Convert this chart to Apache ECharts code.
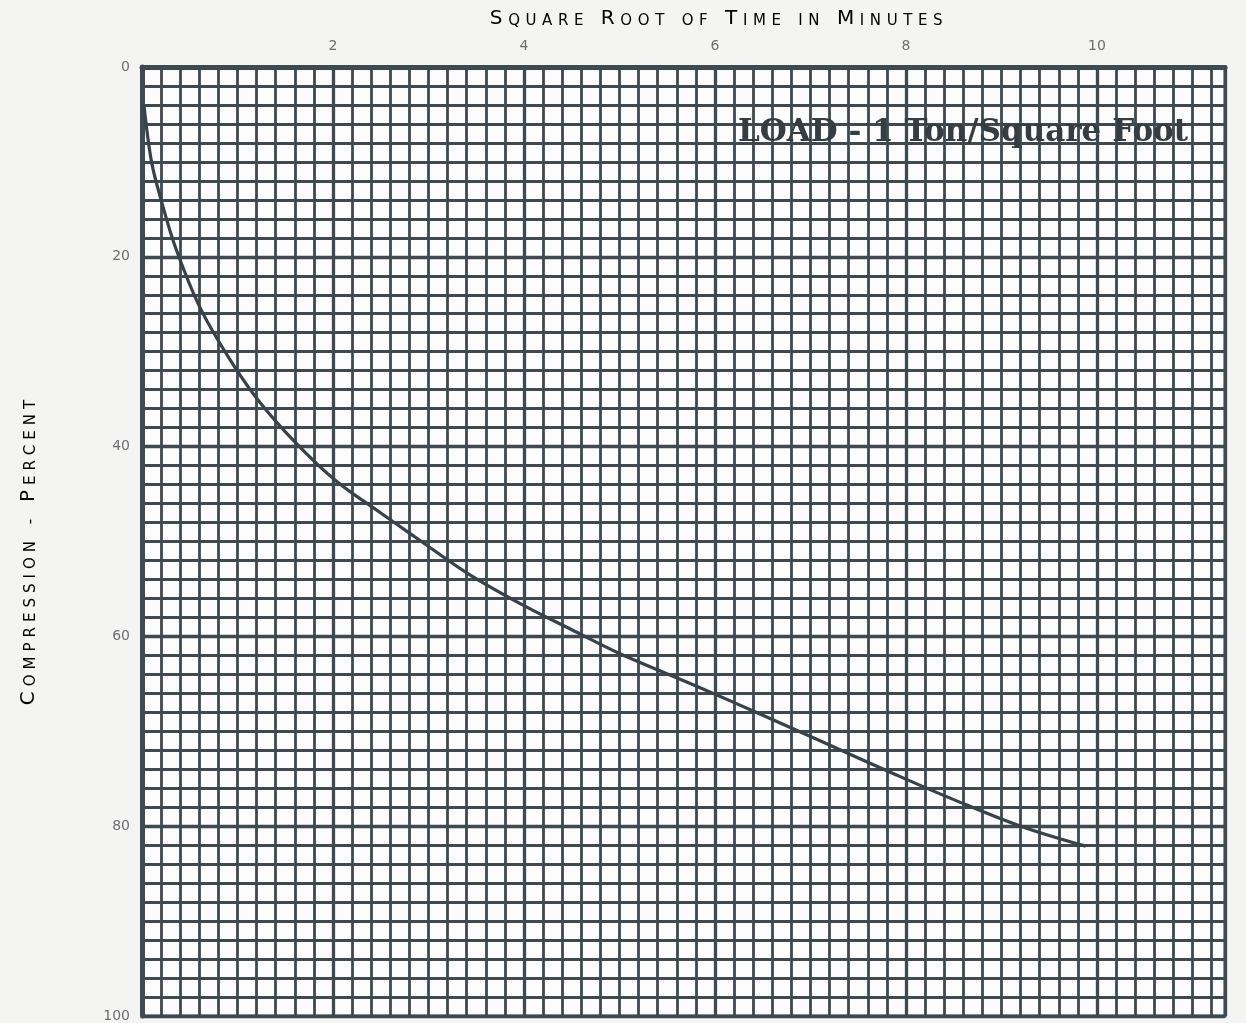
<!DOCTYPE html>
<html>
<head>
<meta charset="utf-8">
<script src="https://cdn.jsdelivr.net/npm/echarts@6/dist/echarts.min.js"></script>
<style>
html,body{margin:0;padding:0;background:#f4f4f3;}
#c{width:1246px;height:1023px;}
</style>
</head>
<body>
<div id="c"></div>
<script>
// ---- data ----
const sqrtTime    = [0.02, 0.1, 0.2, 0.35, 0.6, 0.9, 1.2, 1.6, 2.03, 2.5, 2.87, 3.4, 3.97, 4.5, 5.0, 5.82, 6.5, 7.1, 7.9, 8.5, 9.2, 9.88];
const compression = [4, 10, 14, 19, 25.2, 30.5, 34.9, 39.5, 43.6, 47, 49.6, 53.3, 56.6, 59.3, 61.8, 65.3, 68.3, 71, 74.6, 77.2, 80, 82.1];
const xTickLabels = [2, 4, 6, 8, 10];
const yTickLabels = [0, 20, 40, 60, 80, 100];
const xTitle = 'SQUARE ROOT OF TIME IN MINUTES';
const yTitle = 'COMPRESSION - PERCENT';
const loadNote = 'LOAD - 1 Ton/Square Foot';

const lineColor = '#3e4a50';
const titleColor = '#5d6367';

// small-caps style text with letter spacing, built from a plain string
function smallCaps(str) {
  let out = '';
  const words = str.split(' ');
  words.forEach((w, wi) => {
    for (let i = 0; i < w.length; i++) {
      const big = (i === 0 && w.length > 2);
      out += '{' + (big ? 'B' : 's') + '|' + w[i] + '}';
    }
    if (wi < words.length - 1) out += '{w| }';
  });
  return out;
}
function capsRich(sp) {
  return {
    B: {fontSize: 20, lineHeight: 22, verticalAlign: 'bottom', padding: [0, sp, 0, 0], fontFamily: 'DejaVu Sans', color: titleColor},
    s: {fontSize: 15, lineHeight: 18, verticalAlign: 'bottom', padding: [0, sp, 0, 0], fontFamily: 'DejaVu Sans', color: titleColor},
    w: {fontSize: 15, lineHeight: 18, verticalAlign: 'bottom', padding: [0, 7, 0, 0], fontFamily: 'DejaVu Sans', color: titleColor}
  };
}

const chart = echarts.init(document.getElementById('c'));
const isInt = v => Math.abs(v - Math.round(v)) < 1e-6;

chart.setOption({
  backgroundColor: '#f4f4f3',
  animation: false,
  grid: {left: 142, right: 21, top: 67, bottom: 1, show: true, backgroundColor: '#fcfcfc', borderColor: lineColor, borderWidth: 3},
  xAxis: [
    {
      type: 'value', position: 'top', min: 0, max: 11.34, interval: 0.2,
      axisLine: {show: true, lineStyle: {color: lineColor, width: 5}},
      axisTick: {show: false},
      axisLabel: {
        interval: 0, margin: 14, color: '#6b6f72', fontSize: 14, fontFamily: 'DejaVu Sans',
        showMinLabel: false, showMaxLabel: false,
        formatter: v => (isInt(v) && xTickLabels.includes(Math.round(v))) ? String(Math.round(v)) : ''
      },
      splitLine: {show: true, lineStyle: {color: lineColor, width: 2.8}}
    },
    {
      type: 'value', position: 'top', min: 0, max: 11.34, interval: 2,
      axisLine: {show: false}, axisTick: {show: false}, axisLabel: {show: false},
      splitLine: {show: true, lineStyle: {color: lineColor, width: 3.3}}
    }
  ],
  yAxis: [
    {
      type: 'value', inverse: true, min: 0, max: 100, interval: 2,
      axisLine: {show: true, lineStyle: {color: lineColor, width: 5}},
      axisTick: {show: false},
      axisLabel: {
        interval: 0, margin: 12, color: '#6b6f72', fontSize: 14, fontFamily: 'DejaVu Sans',
        formatter: v => yTickLabels.includes(v) ? String(v) : ''
      },
      splitLine: {show: true, lineStyle: {color: lineColor, width: 2.8}}
    },
    {
      type: 'value', inverse: true, min: 0, max: 100, interval: 20, position: 'left',
      axisLine: {show: false}, axisTick: {show: false}, axisLabel: {show: false},
      splitLine: {show: true, lineStyle: {color: lineColor, width: 3.3}}
    }
  ],
  series: [{
    type: 'line',
    xAxisIndex: 0, yAxisIndex: 0,
    data: sqrtTime.map((x, i) => [x, compression[i]]),
    smooth: 0.35,
    showSymbol: false,
    lineStyle: {color: '#37434a', width: 3.2},
    z: 5
  }],
  graphic: [
    {
      type: 'text', x: 719, y: 18, z: 10,
      style: {text: smallCaps(xTitle), rich: capsRich(5.6), align: 'center', verticalAlign: 'middle'}
    },
    {
      type: 'text', x: 28, y: 550, rotation: Math.PI / 2, z: 10,
      style: {text: smallCaps(yTitle), rich: capsRich(5), align: 'center', verticalAlign: 'middle'}
    },
    {
      type: 'text', x: 738, y: 133, z: 10,
      style: {text: loadNote, fill: '#333d42', font: 'bold 31px "DejaVu Serif"', align: 'left', verticalAlign: 'middle'}
    }
  ]
});
</script>
</body>
</html>
